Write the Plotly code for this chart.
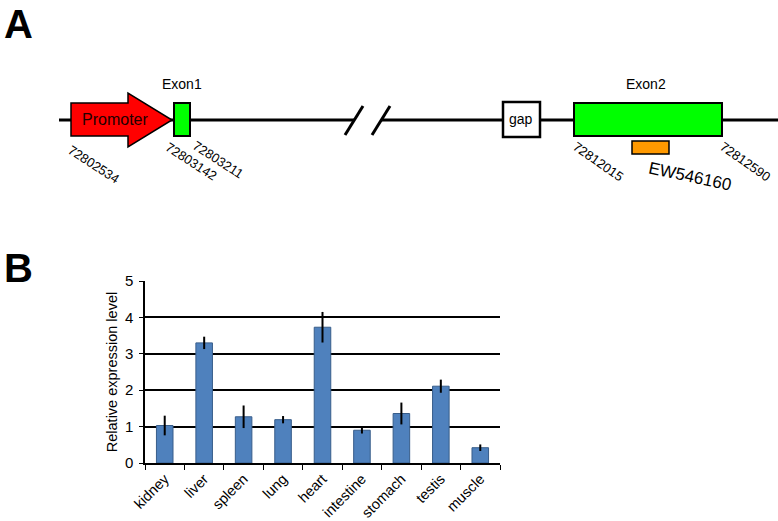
import plotly.graph_objects as go

# datos del panel B
tejidos = ['kidney', 'liver', 'spleen', 'lung', 'heart', 'intestine', 'stomach', 'testis', 'muscle']
expresion = [1.03, 3.30, 1.27, 1.19, 3.73, 0.90, 1.36, 2.11, 0.42]
error = [0.27, 0.17, 0.31, 0.10, 0.42, 0.09, 0.30, 0.18, 0.09]

# etiquetas del panel A
coords = ['72802534', '72803142', '72803211', '72812015', '72812590']
est = 'EW546160'

W, H = 778, 521


def px(x):
    return x / W


def py(y):
    return 1 - y / H


fig = go.Figure(go.Bar(
    x=tejidos,
    y=expresion,
    error_y=dict(type='data', array=error, color='black', thickness=2, width=0),
    marker=dict(color='#4f81bd', line=dict(color='#385d8a', width=1)),
))

shapes = []
anns = []

# linea genomica con corte
shapes.append(dict(type='line', xref='paper', yref='paper', x0=px(59), y0=py(120), x1=px(354), y1=py(120),
                   line=dict(color='black', width=3)))
shapes.append(dict(type='line', xref='paper', yref='paper', x0=px(381), y0=py(120), x1=px(778), y1=py(120),
                   line=dict(color='black', width=3)))
for x0 in [345, 372]:
    shapes.append(dict(type='line', xref='paper', yref='paper', x0=px(x0), y0=py(135), x1=px(x0 + 18), y1=py(106),
                       line=dict(color='black', width=3)))

# flecha del promotor
pts = [(71, 103), (128, 103), (128, 93), (172, 120), (128, 147), (128, 136), (71, 136)]
path = 'M ' + ' L '.join(f'{px(a)},{py(b)}' for a, b in pts) + ' Z'
shapes.append(dict(type='path', xref='paper', yref='paper', path=path, fillcolor='#ff0000',
                   line=dict(color='black', width=1.5)))


def caja(x0, y0, x1, y1, color, w=2):
    shapes.append(dict(type='rect', xref='paper', yref='paper', x0=px(x0), y0=py(y0), x1=px(x1), y1=py(y1),
                       fillcolor=color, line=dict(color='black', width=w)))


caja(174, 103, 190, 136, '#00ff00')
caja(503, 102, 540, 137, 'white', 2.5)
caja(574, 103, 722, 136, '#00ff00')
caja(632, 141, 669, 154, '#ff9900', 1.5)


def texto(x, y, t, size=12, angle=0, color='black'):
    anns.append(dict(xref='paper', yref='paper', x=px(x), y=py(y), text=t, showarrow=False,
                     textangle=angle, xanchor='center', yanchor='middle',
                     font=dict(size=size, color=color, family='Arial')))


texto(115, 120, 'Promoter', 16, color='#200000')
texto(182, 84, 'Exon1', 14)
texto(646, 84, 'Exon2', 14)
texto(521, 119, 'gap', 14)
texto(94, 164, coords[0], 13, 33)
texto(191, 162, coords[1], 13, 33)
texto(218, 159, coords[2], 13, 33)
texto(598, 162, coords[3], 13, 35)
texto(745, 162, coords[4], 13, 35)
texto(690, 176, est, 17, 12)

# letras de panel
anns.append(dict(xref='paper', yref='paper', x=px(2), y=py(0), text='<b>A</b>', showarrow=False,
                 xanchor='left', yanchor='top', font=dict(size=40, color='black', family='Arial')))
anns.append(dict(xref='paper', yref='paper', x=px(2), y=py(244), text='<b>B</b>', showarrow=False,
                 xanchor='left', yanchor='top', font=dict(size=40, color='black', family='Arial')))

fig.update_layout(
    width=W, height=H,
    margin=dict(l=0, r=0, t=0, b=0, autoexpand=False),
    paper_bgcolor='white', plot_bgcolor='white',
    showlegend=False,
    bargap=0.58,
    font=dict(family='Arial', color='black'),
    shapes=shapes,
    annotations=anns,
    xaxis=dict(domain=[px(145), px(500)], showline=True, linecolor='black', linewidth=1.5, automargin=False,
               ticks='outside', tickson='boundaries', ticklen=5, tickcolor='black',
               tickangle=-45, tickfont=dict(size=14.5, color='black')),
    yaxis=dict(domain=[py(463), py(281)], range=[0, 5], dtick=1, showline=True, linecolor='black',
               linewidth=1.5, showgrid=True, gridcolor='black', gridwidth=1.5, zeroline=False, automargin=False,
               ticks='outside', ticklen=4, tickcolor='black', tickfont=dict(size=15, color='black'),
               ticklabelstandoff=3,
               title=dict(text='Relative expression level', font=dict(size=14.5, color='black'), standoff=4)),
)

# quitar el margen del body para que la figura ocupe la ventana
fig.write_html("out.html", config={'displayModeBar': False},
               post_script="document.body.style.margin='0';")
